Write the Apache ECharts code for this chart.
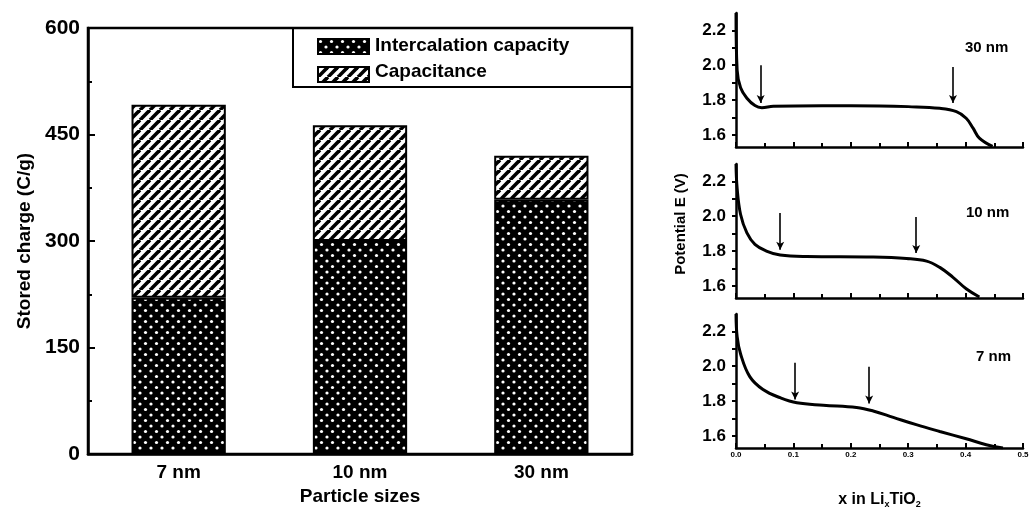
<!DOCTYPE html>
<html>
<head>
<meta charset="utf-8">
<script src="https://cdn.jsdelivr.net/npm/echarts@6/dist/echarts.min.js"></script>
<style>
  html, body { margin: 0; padding: 0; background: #fff; }
  #chart { width: 1032px; height: 511px; }
</style>
</head>
<body>
<div id="chart"></div>
<script>
// left panel: stacked bars
var sizes = ['7 nm', '10 nm', '30 nm'];
var intercalation = [220, 300, 358];
var capacitance = [272, 163, 62];
var seriesNames = ['Intercalation capacity', 'Capacitance'];

// right panels: potential curves [x in LixTiO2, E (V)]
var curve30 = [[0, 2.30], [0.002, 1.97], [0.008, 1.87], [0.019, 1.81], [0.033, 1.768], [0.045, 1.756],
  [0.065, 1.764], [0.15, 1.767], [0.25, 1.766], [0.30, 1.762], [0.355, 1.752], [0.384, 1.733],
  [0.401, 1.695], [0.413, 1.638], [0.424, 1.581], [0.447, 1.533]];
var curve10 = [[0, 2.30], [0.002, 2.16], [0.008, 2.01], [0.019, 1.904], [0.033, 1.838], [0.053, 1.80],
  [0.077, 1.777], [0.123, 1.768], [0.239, 1.765], [0.297, 1.757], [0.332, 1.742], [0.355, 1.706],
  [0.378, 1.649], [0.401, 1.583], [0.424, 1.536]];
var curve7 = [[0, 2.30], [0.002, 2.17], [0.008, 2.07], [0.024, 1.94], [0.047, 1.866], [0.077, 1.819],
  [0.106, 1.79], [0.152, 1.776], [0.21, 1.763], [0.239, 1.743], [0.274, 1.706], [0.314, 1.664],
  [0.355, 1.625], [0.401, 1.583], [0.436, 1.549], [0.465, 1.53]];

// arrows: [x, E start, E end]
var arrows30 = [[0.043, 2.00, 1.783], [0.378, 1.99, 1.783]];
var arrows10 = [[0.077, 2.018, 1.807], [0.314, 1.995, 1.788]];
var arrows7 = [[0.103, 2.02, 1.809], [0.232, 1.997, 1.786]];

var eTicks = [1.6, 1.8, 2.0, 2.2];
var eTicksAll = [1.6, 1.7, 1.8, 1.9, 2.0, 2.1, 2.2];

var FONT = '"Liberation Sans", Arial, sans-serif';

function dotPattern() {
    var c = document.createElement('canvas');
    c.width = 11; c.height = 11;
    var g = c.getContext('2d');
    g.fillStyle = '#000';
    g.fillRect(0, 0, 11, 11);
    g.fillStyle = '#fff';
    g.beginPath(); g.arc(2.5, 2.5, 1.6, 0, Math.PI * 2); g.fill();
    g.beginPath(); g.arc(8, 8, 1.6, 0, Math.PI * 2); g.fill();
    return { image: c, repeat: 'repeat' };
}

function hatchPattern() {
    var c = document.createElement('canvas');
    c.width = 10; c.height = 10;
    var g = c.getContext('2d');
    g.fillStyle = '#fff';
    g.fillRect(0, 0, 10, 10);
    g.strokeStyle = '#000';
    g.lineWidth = 3.6;
    for (var k = -1; k <= 1; k++) {
        g.beginPath();
        g.moveTo(k * 10, 10);
        g.lineTo(k * 10 + 10, 0);
        g.stroke();
    }
    return { image: c, repeat: 'repeat' };
}

function arrowLines(list) {
    return list.map(function (a) {
        return [{ coord: [a[0], a[1]] }, { coord: [a[0], a[2]] }];
    });
}

function boldText(txt, x, y, size) {
    return {
        type: 'text', left: x, top: y,
        style: { text: txt, fontFamily: FONT, fontWeight: 'bold', fontSize: size, fill: '#000' }
    };
}

var panels = [
    { top: 13, data: curve30, arrows: arrows30 },
    { top: 164, data: curve10, arrows: arrows10 },
    { top: 314, data: curve7, arrows: arrows7 }
];

var myChart = echarts.init(document.getElementById('chart'));

var grids = [{ left: 88, top: 28, width: 544, height: 428, show: true, borderColor: '#000', borderWidth: 2.5 }];
var xAxes = [{
    type: 'category',
    gridIndex: 0,
    data: sizes,
    name: 'Particle sizes',
    nameLocation: 'middle',
    nameGap: 27,
    nameTextStyle: { fontFamily: FONT, fontWeight: 'bold', fontSize: 19, color: '#000' },
    axisLine: { lineStyle: { color: '#000', width: 2.5 } },
    axisTick: { inside: true, length: 5, lineStyle: { color: '#000', width: 2 } },
    axisLabel: { margin: 9, fontFamily: FONT, fontWeight: 'bold', fontSize: 19, color: '#000' }
}];
var yAxes = [{
    type: 'value',
    gridIndex: 0,
    min: 0, max: 600, interval: 150,
    name: 'Stored charge (C/g)',
    nameLocation: 'middle',
    nameGap: 52,
    nameTextStyle: { fontFamily: FONT, fontWeight: 'bold', fontSize: 19, color: '#000' },
    axisLine: { show: true, lineStyle: { color: '#000', width: 2.5 } },
    axisTick: { show: true, inside: true, length: 7, lineStyle: { color: '#000', width: 2 } },
    minorTick: { show: true, splitNumber: 2, length: 4, lineStyle: { color: '#000', width: 2 } },
    splitLine: { show: false },
    axisLabel: { margin: 8, fontFamily: FONT, fontWeight: 'bold', fontSize: 21, color: '#000' }
}];
var series = [{
    name: seriesNames[0],
    type: 'bar',
    stack: 'q',
    barWidth: '52%',
    xAxisIndex: 0, yAxisIndex: 0,
    data: intercalation,
    itemStyle: { color: dotPattern(), borderColor: '#000', borderWidth: 2 }
}, {
    name: seriesNames[1],
    type: 'bar',
    stack: 'q',
    barWidth: '52%',
    xAxisIndex: 0, yAxisIndex: 0,
    data: capacitance,
    itemStyle: { color: hatchPattern(), borderColor: '#000', borderWidth: 2 }
}];

panels.forEach(function (p, i) {
    var gi = i + 1;
    var last = i === panels.length - 1;
    grids.push({ left: 736, top: p.top, width: 287, height: 134 });
    xAxes.push({
        type: 'value',
        gridIndex: gi,
        min: 0, max: 0.5, interval: 0.1,
        name: last ? 'x in Li{s|x}TiO{s|2}' : '',
        nameLocation: 'middle',
        nameGap: 42,
        nameTextStyle: {
            fontFamily: FONT, fontWeight: 'bold', fontSize: 16, color: '#000',
            rich: { s: { fontFamily: FONT, fontWeight: 'bold', fontSize: 9, color: '#000', verticalAlign: 'bottom', padding: [10, 0, 0, 0] } }
        },
        axisLine: { lineStyle: { color: '#000', width: 2.5 } },
        axisTick: { inside: true, length: 5, lineStyle: { color: '#000', width: 2 } },
        minorTick: { show: true, splitNumber: 2, length: 4, lineStyle: { color: '#000', width: 2 } },
        splitLine: { show: false },
        axisLabel: {
            show: last, margin: 3, fontFamily: FONT, fontWeight: 'bold', fontSize: 8, color: '#000',
            formatter: function (v) { return v.toFixed(1); }
        }
    });
    yAxes.push({
        type: 'value',
        gridIndex: gi,
        min: 1.53, max: 2.30,
        name: i === 1 ? 'Potential E (V)' : '',
        nameLocation: 'middle',
        nameGap: 48,
        nameTextStyle: { fontFamily: FONT, fontWeight: 'bold', fontSize: 15, color: '#000', padding: [0, 0, 0, 14] },
        axisLine: { show: true, lineStyle: { color: '#000', width: 2.5 } },
        axisTick: { show: true, length: 4, customValues: eTicksAll, lineStyle: { color: '#000', width: 2 } },
        splitLine: { show: false },
        axisLabel: {
            margin: 10, customValues: eTicks, fontFamily: FONT, fontWeight: 'bold', fontSize: 17, color: '#000',
            formatter: function (v) { return v.toFixed(1); }
        }
    });
    series.push({
        type: 'line',
        xAxisIndex: gi, yAxisIndex: gi,
        data: p.data,
        smooth: 0.4,
        showSymbol: false,
        silent: true,
        lineStyle: { color: '#000', width: 3 },
        markLine: {
            silent: true,
            symbol: ['none', 'arrow'],
            symbolSize: [6, 8],
            label: { show: false },
            lineStyle: { color: '#000', width: 1.6, type: 'solid' },
            data: arrowLines(p.arrows)
        }
    });
});

var option = {
    animation: false,
    backgroundColor: '#fff',
    grid: grids,
    xAxis: xAxes,
    yAxis: yAxes,
    // legend draws the swatches; its labels are set as bold text below
    legend: {
        data: [
            { name: seriesNames[0], icon: 'rect' },
            { name: seriesNames[1], icon: 'rect' }
        ],
        orient: 'vertical',
        left: 317, top: 38,
        padding: 0,
        itemGap: 11,
        itemWidth: 51, itemHeight: 15,
        selectedMode: false,
        formatter: function () { return ''; }
    },
    graphic: [
        { type: 'rect', shape: { x: 293, y: 28, width: 339, height: 59 }, style: { fill: 'none', stroke: '#000', lineWidth: 2 } },
        boldText(seriesNames[0], 375, 36, 19),
        boldText(seriesNames[1], 375, 62, 19),
        boldText('30 nm', 965, 40, 15),
        boldText('10 nm', 966, 205, 15),
        boldText('7 nm', 976, 349, 15)
    ],
    series: series
};
myChart.setOption(option);
</script>
</body>
</html>
